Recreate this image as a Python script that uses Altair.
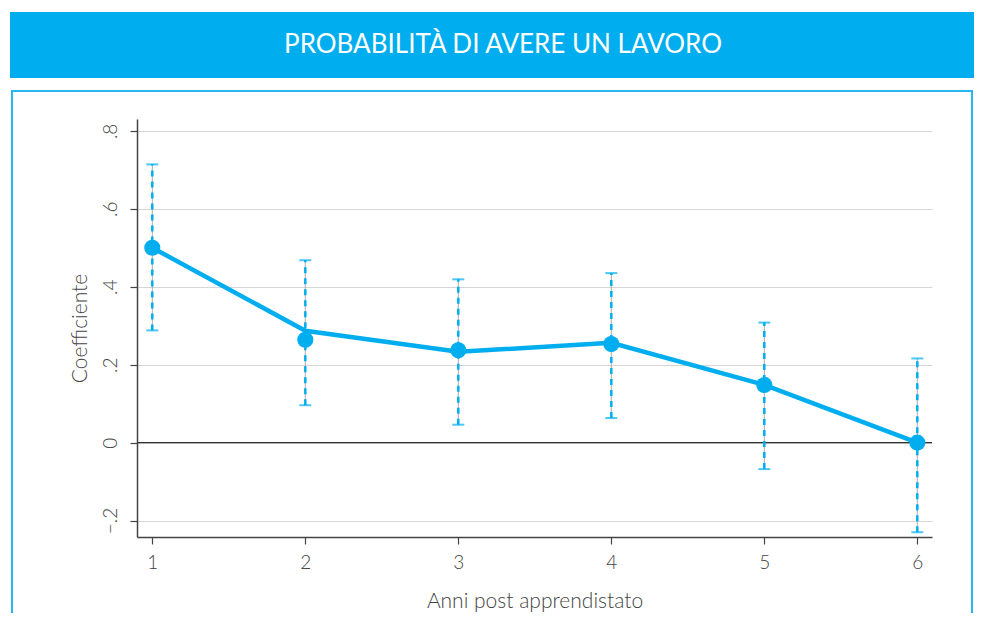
import altair as alt
import pandas as pd

# ---- data ----
years = [1, 2, 3, 4, 5, 6]
line_vals = [0.500, 0.287, 0.233, 0.256, 0.148, 0.000]
point_vals = [0.500, 0.264, 0.237, 0.253, 0.148, 0.000]
ci_low = [0.288, 0.096, 0.046, 0.063, -0.068, -0.230]
ci_high = [0.714, 0.468, 0.419, 0.435, 0.308, 0.216]
y_ticks = [-0.2, 0.0, 0.2, 0.4, 0.6, 0.8]
x_ticks = [1, 2, 3, 4, 5, 6]
title_text = "PROBABILITÀ DI AVERE UN LAVORO"
x_title = "Anni post apprendistato"
y_title = "Coefficiente"

BLUE = "#00AEEF"
FONT = "Lato"

df = pd.DataFrame({"year": years, "line": line_vals, "coef": point_vals,
                   "lo": ci_low, "hi": ci_high})
one = pd.DataFrame({"t": [title_text]})

xs = alt.Scale(domain=[0.9, 6.096], nice=False, zero=False)
ys = alt.Scale(domain=[-0.2422, 0.8304], nice=False, zero=False)

x_axis = alt.Axis(values=x_ticks, title=x_title, grid=False, labelFontSize=19,
                  titleFontSize=21, labelPadding=9, titlePadding=18, tickSize=7,
                  labelFlush=False, format="d")
y_axis = alt.Axis(values=y_ticks, title=y_title, grid=True, labelAngle=270,
                  labelFontSize=19, titleFontSize=21, tickSize=7, labelPadding=10,
                  titlePadding=11,
                  labelExpr="datum.value == 0 ? '0' : replace(format(datum.value, '.1f'), '0.', '.')")

banner = alt.Chart(one).mark_rect(fill=BLUE).encode(
    x=alt.value(-127), x2=alt.value(850), y=alt.value(-107), y2=alt.value(-41))
box = alt.Chart(one).mark_rect(fill=None, stroke="#29B6F0", strokeWidth=2).encode(
    x=alt.value(-125), x2=alt.value(835), y=alt.value(-28), y2=alt.value(520))
title = alt.Chart(one).mark_text(font=FONT, fontSize=26, fontWeight=400,
                                 color="white", align="center", baseline="middle").encode(
    text="t:N", x=alt.value(366), y=alt.value(-74))

base = alt.Chart(df)
axes = base.mark_point(opacity=0).encode(
    x=alt.X("year:Q", scale=xs, axis=x_axis),
    y=alt.Y("coef:Q", scale=ys, axis=y_axis))
zero = alt.Chart(pd.DataFrame({"z": [0.0]})).mark_rule(color="#333333", strokeWidth=1.2).encode(
    y=alt.Y("z:Q", scale=ys), x=alt.value(0), x2=alt.value(795))
bar_gray = base.mark_rule(color="#aaaaaa", strokeWidth=1).encode(
    x=alt.X("year:Q", scale=xs), y=alt.Y("lo:Q", scale=ys), y2="hi:Q")
bar_blue = base.mark_rule(color=BLUE, strokeWidth=2.5, strokeDash=[6, 5]).encode(
    x=alt.X("year:Q", scale=xs), y=alt.Y("lo:Q", scale=ys), y2="hi:Q")
cap_lo = base.mark_tick(color=BLUE, orient="horizontal", size=12, thickness=2).encode(
    x=alt.X("year:Q", scale=xs), y=alt.Y("lo:Q", scale=ys))
cap_hi = base.mark_tick(color=BLUE, orient="horizontal", size=12, thickness=2).encode(
    x=alt.X("year:Q", scale=xs), y=alt.Y("hi:Q", scale=ys))
line = base.mark_line(color=BLUE, strokeWidth=4.5).encode(
    x=alt.X("year:Q", scale=xs), y=alt.Y("line:Q", scale=ys))
pts = base.mark_circle(color=BLUE, size=260, opacity=1).encode(
    x=alt.X("year:Q", scale=xs), y=alt.Y("coef:Q", scale=ys))

chart = alt.layer(banner, box, title, axes, zero, bar_gray, bar_blue, cap_lo, cap_hi,
                  line, pts).properties(
    width=795, height=418,
    padding={"left": 129, "top": 111, "right": 42, "bottom": 76},
    autosize=alt.AutoSizeParams(type="none"),
    background="white",
).configure_view(stroke=None).configure_axis(
    labelFont=FONT, titleFont=FONT, labelColor="#444444", titleColor="#444444",
    labelFontWeight=300, titleFontWeight=300,
    domainColor="#444444", domainWidth=1.5, tickColor="#444444", tickWidth=1.2,
    gridColor="#d6d6d6", gridWidth=1)

chart.save("out.html", embed_options={"renderer": "svg", "actions": False})
